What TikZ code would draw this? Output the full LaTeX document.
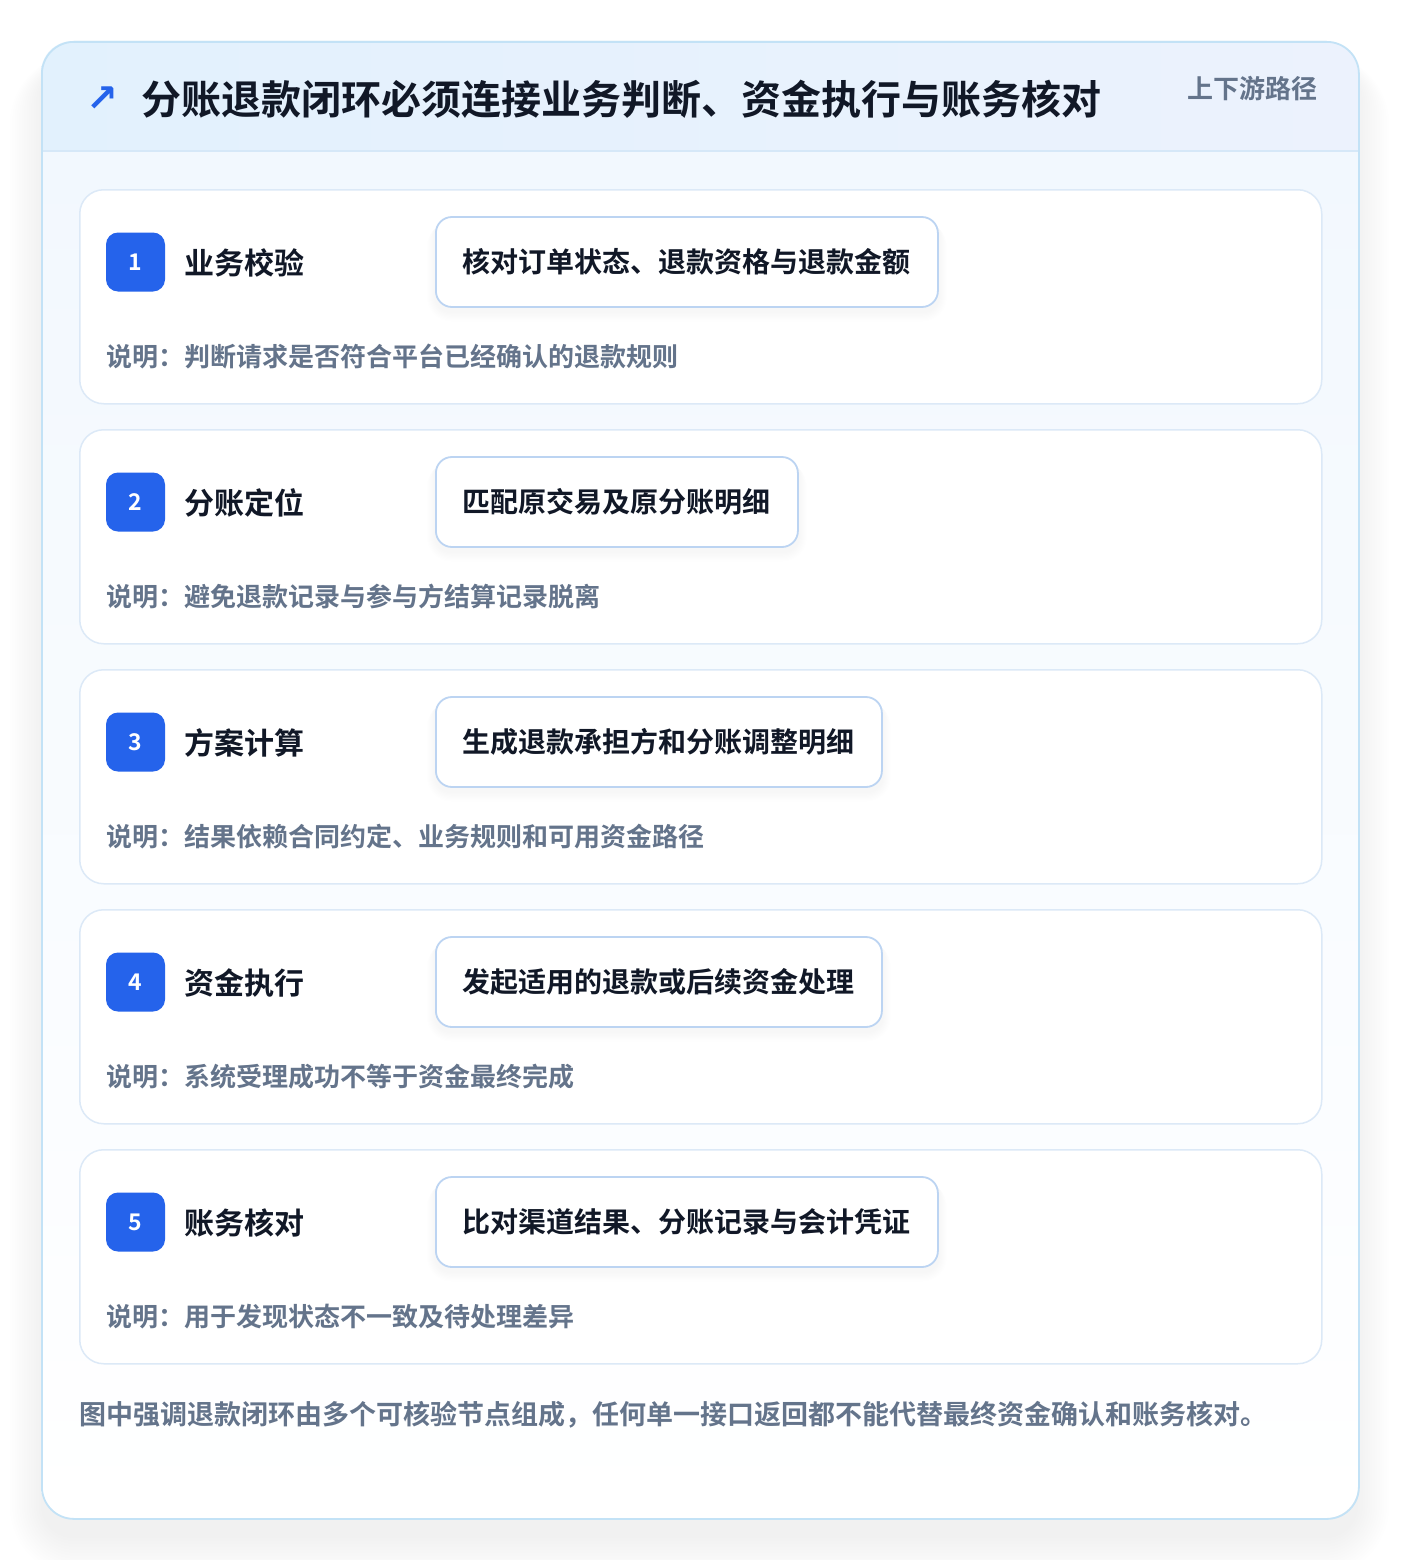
\documentclass[tikz,border=0pt]{standalone}
\usepackage{fontspec}
\setmainfont{Noto Sans CJK SC}[BoldFont={Noto Sans CJK SC Bold}]
\newfontfamily\symfont{DejaVu Sans}
\definecolor{darktext}{HTML}{111827}
\definecolor{graytext}{HTML}{64748B}
\definecolor{accent}{HTML}{2563EB}
\definecolor{outerline}{HTML}{C3E2F6}
\definecolor{cardline}{HTML}{DCE9F7}
\definecolor{boxline}{HTML}{BCD4F2}
\definecolor{headL}{HTML}{E2F1FD}
\definecolor{headR}{HTML}{ECF2FD}
\definecolor{headline}{HTML}{D6E8F8}
\definecolor{bodytop}{HTML}{F2F8FE}
\pgfdeclarelayer{baselayer}
\pgfdeclarelayer{cardlayer}
\pgfdeclarelayer{shadowlayer}
\pgfsetlayers{baselayer,cardlayer,shadowlayer,main}
\tikzset{
  card/.style={draw=cardline, line width=1.5pt, fill=white, rounded corners=24pt, minimum width=1242pt, minimum height=214pt, anchor=north west, inner sep=0pt},
  badge/.style={fill=accent, rounded corners=12pt, minimum width=59pt, minimum height=59pt, inner sep=0pt, text=white, font=\bfseries\fontsize{23}{26}\selectfont},
  steplabel/.style={anchor=west, inner sep=0pt, text=darktext, font=\bfseries\fontsize{30}{36}\selectfont},
  stepbox/.style={draw=boxline, line width=1.8pt, fill=white, rounded corners=16pt, anchor=west, inner xsep=27pt, minimum height=90pt, text=darktext, font=\bfseries\fontsize{28}{34}\selectfont},
  desc/.style={anchor=west, inner sep=0pt, text=graytext, font=\bfseries\fontsize{26}{32}\selectfont},
}
\begin{document}
\begin{tikzpicture}[x=1pt,y=-1pt]
\useasboundingbox (0,0) rectangle (1400,1560);
\begin{pgfonlayer}{baselayer}
\fill[white] (0,0) rectangle (1400,1560);
% outer shadow
\foreach \s in {0,3,...,39} {
  \fill[black, opacity=0.0045, rounded corners={32+\s}] ({41-0.8*\s},{41+24-0.3*\s}) rectangle ({1358+0.8*\s},{1518+20+\s});
}
% outer card
\begin{scope}
\path[clip, rounded corners=32pt] (41,41) rectangle (1358,1518);
\shade[top color=bodytop, bottom color=white] (41,151) rectangle (1358,1518);
\shade[left color=headL, right color=headR] (41,41) rectangle (1358,151);
\draw[headline, line width=1.5pt] (41,151) -- (1358,151);
\end{scope}
\node[draw=outerline, line width=1.8pt, rounded corners=32pt, minimum width=1317pt, minimum height=1477pt, anchor=north west, inner sep=0pt] (outer) at (41,41) {};
\end{pgfonlayer}
% header
\node[text=accent, inner sep=0pt, font=\symfont\bfseries\fontsize{38}{44}\selectfont] (arrow) at (102,99) {↗};
\node[anchor=west, inner sep=0pt, text=darktext, font=\bfseries\fontsize{40}{48}\selectfont] (title) at (141,99) {分账退款闭环必须连接业务判断、资金执行与账务核对};
\node[anchor=east, inner sep=0pt, text=graytext, font=\bfseries\fontsize{26}{32}\selectfont] (tag) at (1318,89) {上下游路径};
% cards
\foreach \i/\lab/\bx/\dsc in {
  1/业务校验/核对订单状态、退款资格与退款金额/说明：判断请求是否符合平台已经确认的退款规则,
  2/分账定位/匹配原交易及原分账明细/说明：避免退款记录与参与方结算记录脱离,
  3/方案计算/生成退款承担方和分账调整明细/说明：结果依赖合同约定、业务规则和可用资金路径,
  4/资金执行/发起适用的退款或后续资金处理/说明：系统受理成功不等于资金最终完成,
  5/账务核对/比对渠道结果、分账记录与会计凭证/说明：用于发现状态不一致及待处理差异} {
  \pgfmathsetmacro{\ty}{189+240*(\i-1)}
  \begin{pgfonlayer}{cardlayer}
  \node[card] (card\i) at (79,\ty) {};
  \end{pgfonlayer}
  \node[badge] (badge\i) at (135.5,{\ty+73}) {\i};
  \node[steplabel] (lab\i) at (184,{\ty+74}) {\lab};
  \node[stepbox] (box\i) at (435,{\ty+73}) {\bx};
  \begin{pgfonlayer}{shadowlayer}
  \foreach \k in {1,...,8} {
    \fill[black, opacity=0.005, rounded corners={16+\k}] ([xshift={-\k pt}, yshift={-(2+0.5*\k)*1pt}]box\i.north west) rectangle ([xshift={\k pt}, yshift={-(4+1.2*\k)*1pt}]box\i.south east);
  }
  \end{pgfonlayer}
  \node[desc] (desc\i) at (106,{\ty+168}) {\dsc};
}
% footer
\node[anchor=west, inner sep=0pt, text=graytext, font=\bfseries\fontsize{27}{32}\selectfont] (foot) at (79,1415) {图中强调退款闭环由多个可核验节点组成，任何单一接口返回都不能代替最终资金确认和账务核对。};
\end{tikzpicture}
\end{document}
